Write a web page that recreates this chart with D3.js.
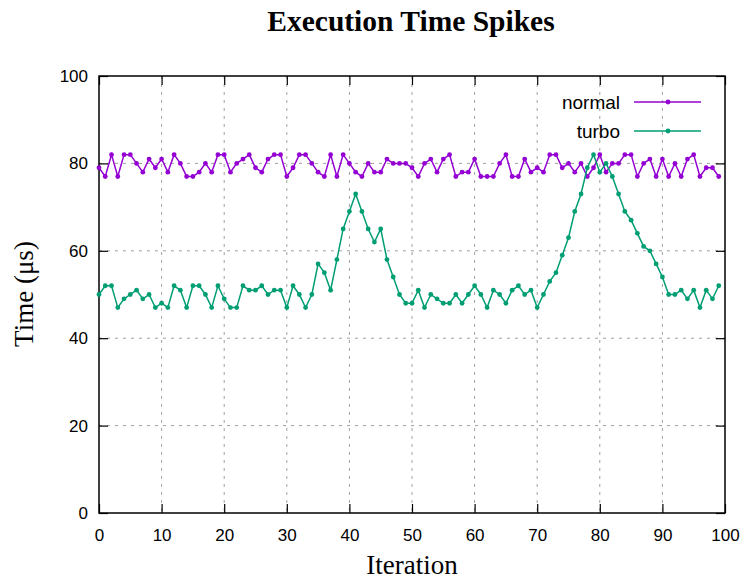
<!DOCTYPE html>
<html>
<head>
<meta charset="utf-8">
<script src="https://cdn.jsdelivr.net/npm/d3@7"></script>
<style>
  body { margin: 0; background: #fff; }
  svg { display: block; }
</style>
</head>
<body>
<svg id="chart" width="744" height="581"></svg>
<script>
// data
var normal = [79,77,82,77,82,82,80,78,81,79,81,78,82,80,77,77,78,80,78,82,
              82,78,80,81,82,79,78,81,82,82,77,79,82,82,80,78,77,82,77,82,
              80,78,77,80,78,78,81,80,80,80,79,77,80,81,78,81,82,77,78,78,
              81,77,77,77,80,82,77,77,81,78,79,78,82,82,79,80,78,80,77,79,
              82,78,80,80,82,82,77,80,81,77,81,77,80,77,81,82,77,79,79,77];
var turbo  = [50,52,52,47,49,50,51,49,50,47,48,47,52,51,47,52,52,50,47,52,
              49,47,47,52,51,51,52,50,51,51,47,52,50,47,50,57,55,51,58,65,
              69,73,69,65,62,65,58,54,50,48,48,51,47,50,49,48,48,50,48,50,
              52,50,47,51,50,48,51,52,50,51,47,50,53,55,59,63,69,73,79,82,
              78,80,77,73,69,67,64,61,60,57,54,50,50,51,49,51,47,51,49,52];
var seriesNames = ["normal", "turbo"];
var seriesColors = ["#9400d3", "#009e73"];
var xTicks = [0,10,20,30,40,50,60,70,80,90,100];
var yTicks = [0,20,40,60,80,100];

var svg = d3.select("#chart");
var pLeft = 99, pRight = 725, pTop = 76, pBottom = 513;

var x = d3.scaleLinear().domain([0, 100]).range([pLeft, pRight]);
var y = d3.scaleLinear().domain([0, 100]).range([pBottom, pTop]);

// grid
var grid = svg.append("g").attr("class", "grid");
grid.selectAll("line.gx")
    .data(xTicks.slice(1, -1))
    .enter().append("line")
    .attr("x1", function(d) { return x(d); })
    .attr("x2", function(d) { return x(d); })
    .attr("y1", pTop).attr("y2", pBottom)
    .style("stroke", "#a0a0a0").style("stroke-width", 1)
    .style("stroke-dasharray", "3,5");
grid.selectAll("line.gy")
    .data(yTicks.slice(1, -1))
    .enter().append("line")
    .attr("y1", function(d) { return y(d); })
    .attr("y2", function(d) { return y(d); })
    .attr("x1", pLeft).attr("x2", pRight)
    .style("stroke", "#a0a0a0").style("stroke-width", 1)
    .style("stroke-dasharray", "3,5");

// axes (ticks pointing inward, mirrored)
var font = "'Liberation Sans', Arial, sans-serif";
svg.append("g")
    .attr("transform", "translate(0," + pBottom + ")")
    .call(d3.axisBottom(x).tickValues(xTicks).tickSizeInner(-9).tickSizeOuter(0).tickPadding(16));
svg.append("g")
    .attr("transform", "translate(" + pLeft + ",0)")
    .call(d3.axisLeft(y).tickValues(yTicks).tickSizeInner(-9).tickSizeOuter(0).tickPadding(11));
svg.append("g")
    .attr("transform", "translate(0," + pTop + ")")
    .call(d3.axisTop(x).tickValues(xTicks).tickSizeInner(-9).tickSizeOuter(0).tickFormat(""));
svg.append("g")
    .attr("transform", "translate(" + pRight + ",0)")
    .call(d3.axisRight(y).tickValues(yTicks).tickSizeInner(-9).tickSizeOuter(0).tickFormat(""));

svg.selectAll(".domain").remove();
svg.selectAll(".tick line").style("stroke", "#000").style("stroke-width", 1.2);
svg.selectAll(".tick text")
    .style("font-family", font).style("font-size", "17px").style("fill", "#000");

// border
svg.append("rect")
    .attr("x", pLeft).attr("y", pTop)
    .attr("width", pRight - pLeft).attr("height", pBottom - pTop)
    .style("fill", "none").style("stroke", "#000").style("stroke-width", 1.5);

// lines
var line = d3.line()
    .x(function(d, i) { return x(i); })
    .y(function(d) { return y(d); });

[normal, turbo].forEach(function(data, k) {
    var g = svg.append("g").attr("class", "series-" + seriesNames[k]);
    g.append("path")
        .datum(data)
        .attr("d", line)
        .style("fill", "none")
        .style("stroke", seriesColors[k])
        .style("stroke-width", 1.5);
    g.selectAll("circle")
        .data(data)
        .enter().append("circle")
        .attr("cx", function(d, i) { return x(i); })
        .attr("cy", function(d) { return y(d); })
        .attr("r", 2.4)
        .style("fill", seriesColors[k]);
});

// legend
var legend = svg.append("g").attr("class", "legend");
seriesNames.forEach(function(name, k) {
    var ly = 102 + k * 29;
    legend.append("text")
        .attr("x", 620).attr("y", ly)
        .attr("dy", "0.35em")
        .style("text-anchor", "end")
        .style("font-family", font).style("font-size", "19px")
        .text(name);
    legend.append("line")
        .attr("x1", 634).attr("x2", 701)
        .attr("y1", ly).attr("y2", ly)
        .style("stroke", seriesColors[k]).style("stroke-width", 1.5);
    legend.append("circle")
        .attr("cx", 668).attr("cy", ly).attr("r", 2.4)
        .style("fill", seriesColors[k]);
});

// titles
var serif = "'Liberation Serif', 'Times New Roman', serif";
svg.append("text")
    .attr("x", 411).attr("y", 31)
    .style("text-anchor", "middle")
    .style("font-family", serif).style("font-weight", "bold").style("font-size", "29.5px")
    .text("Execution Time Spikes");
svg.append("text")
    .attr("x", 412).attr("y", 574)
    .style("text-anchor", "middle")
    .style("font-family", serif).style("font-size", "27px")
    .text("Iteration");
svg.append("text")
    .attr("transform", "translate(33,294) rotate(-90)")
    .style("text-anchor", "middle")
    .style("font-family", serif).style("font-size", "27px")
    .text("Time (μs)");
</script>
</body>
</html>
